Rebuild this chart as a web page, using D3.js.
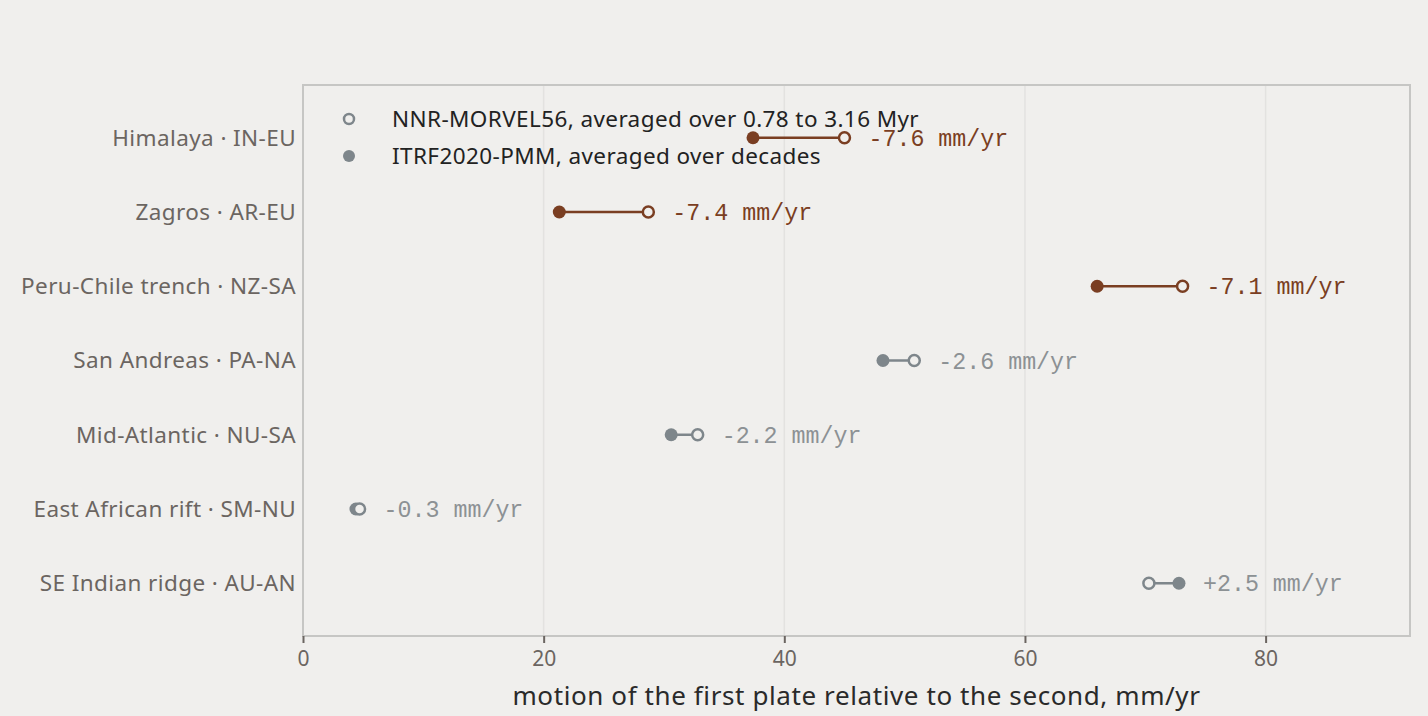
<html>
<head>
<script src="https://cdn.jsdelivr.net/npm/d3@7"></script>
<style>
  body { margin: 0; background: #f0efed; }
  text { font-family: "Noto Sans", sans-serif; }
  .mono { font-family: "Liberation Mono", "DejaVu Sans Mono", monospace; }
</style>
</head>
<body>
<svg width="1428" height="716"></svg>
<script>
// boundary names and plate pairs, top to bottom
const boundaries = ["Himalaya · IN-EU", "Zagros · AR-EU", "Peru-Chile trench · NZ-SA",
  "San Andreas · PA-NA", "Mid-Atlantic · NU-SA", "East African rift · SM-NU", "SE Indian ridge · AU-AN"];
// NNR-MORVEL56 (open dots), mm/yr
const morvel = [45.0, 28.7, 73.1, 50.8, 32.8, 4.7, 70.3];
// ITRF2020-PMM (filled dots), mm/yr
const itrf = [37.4, 21.3, 66.0, 48.2, 30.6, 4.4, 72.8];
const xTicks = [0, 20, 40, 60, 80];
const legendItems = ["NNR-MORVEL56, averaged over 0.78 to 3.16 Myr", "ITRF2020-PMM, averaged over decades"];

const rows = boundaries.map((name, i) => ({ name, morvel: morvel[i], itrf: itrf[i], diff: itrf[i] - morvel[i] }));

const svg = d3.select('svg');
const mLeft = 303, mRight = 1410, mTop = 85, mBottom = 636;

const x = d3.scaleLinear().domain([0, 92]).range([mLeft, mRight]);
const y = d3.scalePoint().domain(boundaries).range([mTop, mBottom]).padding(0.71);

const big = d => Math.abs(d.diff) > 5;
const col = d => big(d) ? '#7a3e22' : '#7e868b';
const labCol = d => big(d) ? '#7a3e22' : '#8c9194';

// gridlines
svg.append('g')
  .selectAll('line')
  .data(xTicks.filter(t => t > 0))
  .join('line')
  .attr('x1', d => x(d)).attr('x2', d => x(d))
  .attr('y1', mTop).attr('y2', mBottom)
  .style('stroke', '#e3e2e0').style('stroke-width', 1.5);

// frame
svg.append('rect')
  .attr('x', mLeft).attr('y', mTop)
  .attr('width', mRight - mLeft).attr('height', mBottom - mTop)
  .style('fill', 'none').style('stroke', '#c6c6c4').style('stroke-width', 2);

// x axis
const xAxis = svg.append('g')
  .attr('transform', `translate(0,${mBottom})`)
  .call(d3.axisBottom(x).tickValues(xTicks).tickSize(7).tickPadding(8));
xAxis.select('.domain').remove();
xAxis.selectAll('line').style('stroke', '#6b6561').style('stroke-width', 2);
xAxis.selectAll('text').style('font-size', '21px').style('fill', '#6b6561')
  .style('font-family', '"Noto Sans", sans-serif');

svg.append('text')
  .attr('x', (mLeft + mRight) / 2).attr('y', 705)
  .attr('text-anchor', 'middle')
  .style('font-size', '26px').style('letter-spacing', '0.6px').style('fill', '#2a2a2a')
  .text('motion of the first plate relative to the second, mm/yr');

// y labels
svg.append('g')
  .selectAll('text')
  .data(boundaries)
  .join('text')
  .attr('x', 296).attr('y', d => y(d))
  .attr('dy', '0.35em')
  .attr('text-anchor', 'end')
  .style('font-size', '22.5px').style('letter-spacing', '0.4px').style('fill', '#6b6561')
  .text(d => d);

// legend
const leg = svg.append('g');
leg.selectAll('circle')
  .data(legendItems)
  .join('circle')
  .attr('cx', 349).attr('cy', (d, i) => 119 + i * 37)
  .attr('r', (d, i) => i ? 6 : 5)
  .style('fill', (d, i) => i ? '#7e868b' : '#f0efed')
  .style('stroke', '#7e868b').style('stroke-width', (d, i) => i ? 0 : 2.5);
leg.selectAll('text')
  .data(legendItems)
  .join('text')
  .attr('x', 392).attr('y', (d, i) => 119 + i * 37)
  .attr('dy', '0.35em')
  .style('font-size', '22.5px').style('letter-spacing', '0.4px').style('fill', '#222')
  .text(d => d);

// dumbbells
const g = svg.append('g').selectAll('g').data(rows).join('g');
g.append('line')
  .attr('x1', d => x(d.itrf)).attr('x2', d => x(d.morvel))
  .attr('y1', d => y(d.name)).attr('y2', d => y(d.name))
  .style('stroke', col).style('stroke-width', 2.5);
g.append('circle')
  .attr('cx', d => x(d.itrf)).attr('cy', d => y(d.name))
  .attr('r', 6.5).style('fill', col);
g.append('circle')
  .attr('cx', d => x(d.morvel)).attr('cy', d => y(d.name))
  .attr('r', 5.5).style('fill', '#f0efed')
  .style('stroke', col).style('stroke-width', 2.5);
g.append('text')
  .attr('class', 'mono')
  .attr('x', d => x(Math.max(d.itrf, d.morvel)) + 24)
  .attr('y', d => y(d.name))
  .attr('dy', '0.35em')
  .style('font-size', '23.3px').style('fill', labCol)
  .text(d => (d.diff > 0 ? '+' : '') + d.diff.toFixed(1) + ' mm/yr');
</script>
</body>
</html>
